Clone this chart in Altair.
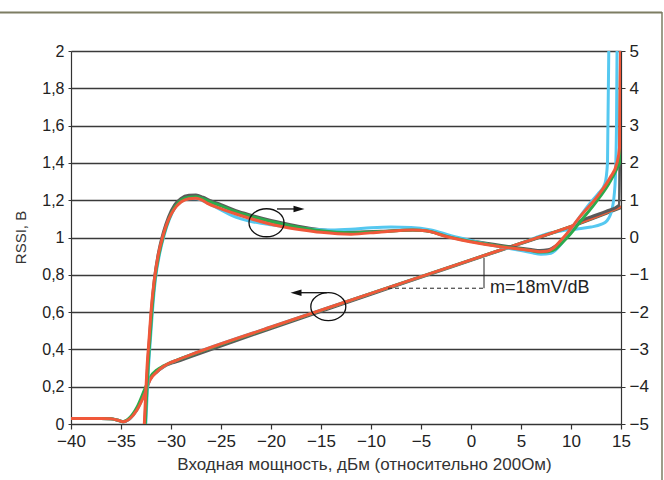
import altair as alt
import pandas as pd

# ---------------- data ----------------
# RSSI curves (left axis, V)
rssi_red_x = [-40, -37, -36, -35.3, -34.8, -34.2, -33.4, -32.6, -32.1, -31.4, -30.8, -30.0, -29.4, -28.0, -20.0, -10.0, 0.0, 5.0, 10.0, 15.0]
rssi_red_y = [0.03, 0.03, 0.028, 0.02, 0.012, 0.025, 0.075, 0.165, 0.236, 0.28, 0.307, 0.33, 0.343, 0.372, 0.52, 0.70, 0.88, 0.97, 1.06, 1.165]
rssi_green_x = [-40, -37, -36, -35.3, -34.8, -34.2, -33.4, -32.6, -32.1, -31.4, -30.8, -30.0, -29.4, -28.0, -20.0, -10.0, 0.0, 5.0, 10.0, 15.0]
rssi_green_y = [0.03, 0.03, 0.028, 0.02, 0.012, 0.03, 0.09, 0.19, 0.25, 0.29, 0.31, 0.33, 0.343, 0.37, 0.518, 0.70, 0.88, 0.97, 1.06, 1.165]
rssi_gray_x = [-40, -37, -36, -35.3, -34.8, -34.2, -33.4, -32.6, -32.1, -31.4, -30.8, -30.0, -29.4, -28.0, -20.0, -10.0, 0.0, 5.0, 10.0, 15.0]
rssi_gray_y = [0.03, 0.03, 0.028, 0.02, 0.012, 0.025, 0.08, 0.17, 0.24, 0.28, 0.305, 0.325, 0.335, 0.362, 0.512, 0.695, 0.878, 0.968, 1.058, 1.16]
rssi_cyan_x = [-40, -37, -36, -35.3, -34.8, -34.2, -33.4, -32.6, -32.1, -31.4, -30.8, -30.0, -29.4, -28.0, -20.0, -10.0, 0.0, 5.0, 8.0, 9.0, 10.0, 11.0, 12.0, 13.0, 13.6, 14.1, 14.4, 14.55, 14.62]
rssi_cyan_y = [0.03, 0.03, 0.028, 0.02, 0.012, 0.025, 0.078, 0.17, 0.24, 0.282, 0.307, 0.33, 0.343, 0.372, 0.52, 0.70, 0.88, 0.97, 1.025, 1.035, 1.042, 1.048, 1.056, 1.07, 1.09, 1.15, 1.28, 1.6, 2.1]

# Error curves (right axis, dB)
err_red_x = [-32.75, -32.55, -32.4, -32.2, -32.0, -31.7, -31.3, -30.8, -30.3, -29.7, -29.0, -28.2, -27.5, -26.9, -26.4, -25.1, -23.5, -22.1, -20.5, -18.8, -17.0, -15.0, -12.0, -9.0, -5.8, -4.5, -2.4, 0.9, 4.2, 6.0, 6.9, 7.6, 8.2, 8.9, 9.6, 10.9, 12.6, 13.9, 14.6, 14.85, 14.97]
err_red_y = [-5.5, -4.3, -3.5, -2.75, -2.0, -1.2, -0.5, 0.05, 0.45, 0.75, 0.95, 1.04, 1.05, 1.0, 0.92, 0.78, 0.63, 0.51, 0.39, 0.29, 0.21, 0.14, 0.09, 0.15, 0.2, 0.18, 0.02, -0.16, -0.29, -0.35, -0.38, -0.37, -0.29, -0.1, 0.11, 0.56, 1.09, 1.6, 2.0, 2.4, 5.5]
err_gray_x = [-32.7, -32.5, -32.35, -32.15, -31.95, -31.65, -31.25, -30.75, -30.25, -29.65, -29.0, -28.2, -27.5, -26.8, -26.0, -25.0, -23.5, -22.0, -20.0, -18.5, -17.0, -15.0, -12.0, -9.0, -5.8, -4.5, -2.4, 0.9, 4.2, 6.0, 6.9, 7.7, 8.5, 9.6, 10.6, 12.0, 13.5, 14.8, 14.97]
err_gray_y = [-5.5, -4.3, -3.5, -2.7, -1.95, -1.1, -0.4, 0.15, 0.55, 0.87, 1.05, 1.13, 1.14, 1.08, 0.98, 0.88, 0.72, 0.6, 0.46, 0.37, 0.29, 0.21, 0.15, 0.17, 0.2, 0.18, 0.04, -0.13, -0.26, -0.32, -0.35, -0.33, -0.22, 0.05, 0.38, 0.55, 0.7, 0.86, 5.5]
err_green_x = [-32.65, -32.45, -32.3, -32.1, -31.9, -31.6, -31.2, -30.7, -30.2, -29.6, -29.0, -28.2, -27.5, -26.8, -26.0, -25.0, -23.5, -22.0, -20.0, -18.5, -17.0, -15.0, -12.0, -9.0, -5.8, -4.5, -2.4, 0.9, 4.2, 6.0, 6.9, 7.7, 8.5, 9.2, 9.9, 11.0, 12.5, 13.8, 14.6, 14.9, 14.97]
err_green_y = [-5.5, -4.3, -3.5, -2.7, -1.95, -1.1, -0.45, 0.1, 0.5, 0.82, 1.0, 1.08, 1.09, 1.04, 0.95, 0.85, 0.69, 0.57, 0.43, 0.34, 0.26, 0.18, 0.13, 0.16, 0.2, 0.18, 0.03, -0.15, -0.28, -0.35, -0.39, -0.38, -0.3, -0.12, 0.08, 0.45, 0.95, 1.45, 1.85, 2.05, 5.5]
err_cyan_x = [-32.6, -32.4, -32.25, -32.05, -31.85, -31.55, -31.15, -30.65, -30.15, -29.55, -28.9, -28.2, -27.5, -26.8, -26.0, -25.0, -24.0, -23.0, -22.0, -21.0, -20.0, -18.0, -16.0, -14.0, -12.0, -10.0, -8.0, -6.0, -4.0, -2.0, 0.0, 2.0, 4.0, 6.0, 7.0, 8.0, 9.0, 10.0, 11.0, 12.0, 12.8, 13.4, 13.65, 13.8]
err_cyan_y = [-5.5, -4.3, -3.5, -2.7, -1.95, -1.1, -0.45, 0.1, 0.5, 0.82, 0.98, 1.04, 1.04, 0.98, 0.88, 0.74, 0.6, 0.5, 0.43, 0.38, 0.34, 0.27, 0.22, 0.2, 0.22, 0.26, 0.28, 0.27, 0.2, 0.05, -0.08, -0.2, -0.3, -0.4, -0.45, -0.42, -0.18, 0.22, 0.6, 0.95, 1.2, 1.45, 2.0, 5.5]

# annotations (left-axis units)
ellipse_x = [-20.45, -14.27]
ellipse_y = [1.079, 0.629]
arrow_right = {"x": -19.4, "x2": -17.3, "y": 1.153, "head": -17.2}
arrow_left = {"x": -14.43, "x2": -17.4, "y": 0.704, "head": -17.5}
slope_x = [-8.3, 1.3]
slope_y = [0.728, 0.89]
slope_label = "m=18mV/dB"

x_ticks = list(range(-40, 16, 5))
left_ticks = [0, 0.2, 0.4, 0.6, 0.8, 1.0, 1.2, 1.4, 1.6, 1.8, 2.0]
right_ticks = list(range(-5, 6))

colors = {"gray": "#5a5a5a", "cyan": "#55c8f0", "green": "#2caa4c", "red": "#f0583a"}

FONT = "Liberation Sans"
AX = "#333333"

x_enc = alt.X("x:Q",
              scale=alt.Scale(domain=[-40, 15], nice=False, zero=False),
              axis=alt.Axis(values=x_ticks, grid=False, tickSize=5, tickColor=AX, tickWidth=1.2,
                            domainColor=AX, domainWidth=1.2, labelFont=FONT, labelFontSize=17,
                            labelColor="#222", labelPadding=4, labelFlush=False,
                            title="Входная мощность, дБм (относительно 200Ом)",
                            titleFont=FONT, titleFontSize=17, titleFontWeight="normal",
                            titleColor="#333", titleX=293, titleY=40, titleBaseline="middle",
                            titleAnchor="start", titleAlign="center"))

left_axis = alt.Axis(values=left_ticks, grid=True, gridColor="#3a3a3a", gridWidth=1.6,
                     tickSize=3, tickColor=AX, domainColor=AX, domainWidth=1.2,
                     labelFont=FONT, labelFontSize=16, labelColor="#222", labelPadding=4,
                     labelExpr="replace(format(datum.value, '~g'), '.', ',')",
                     title="RSSI, B", titleFont=FONT, titleFontSize=15, titleFontWeight="normal",
                     titleColor="#333", titleAngle=-90, titleX=-51, titleY=186,
                     titleBaseline="middle", titleAlign="center", titleAnchor="start")
right_axis = alt.Axis(orient="right", values=right_ticks, grid=False, tickSize=4,
                      tickColor=AX, domainColor=AX, domainWidth=1.2,
                      labelFont=FONT, labelFontSize=17, labelColor="#222", labelPadding=4,
                      title=None)

y_left = alt.Y("y:Q", scale=alt.Scale(domain=[0, 2], nice=False, zero=False), axis=left_axis)
y_right = alt.Y("y:Q", scale=alt.Scale(domain=[-5, 5], nice=False, zero=False), axis=right_axis)
y_ann = alt.Y("y:Q", scale=alt.Scale(domain=[0, 2], nice=False, zero=False), axis=None)


def line(xs, ys, color, y_enc):
    df = pd.DataFrame({"x": xs, "y": ys})
    return alt.Chart(df).mark_line(color=color, strokeWidth=3, clip=True,
                                   interpolate="monotone").encode(x=x_enc, y=y_enc)


left_layer = alt.layer(
    line(rssi_gray_x, rssi_gray_y, colors["gray"], y_left),
    line(rssi_cyan_x, rssi_cyan_y, colors["cyan"], y_left),
    line(rssi_green_x, rssi_green_y, colors["green"], y_left),
    line(rssi_red_x, rssi_red_y, colors["red"], y_left),
)
right_layer = alt.layer(
    line(err_gray_x, err_gray_y, colors["gray"], y_right),
    line(err_cyan_x, err_cyan_y, colors["cyan"], y_right),
    line(err_green_x, err_green_y, colors["green"], y_right),
    line(err_red_x, err_red_y, colors["red"], y_right),
)

ELLIPSE = ("M 1 0 C 1 0.4418 0.5523 0.8 0 0.8 C -0.5523 0.8 -1 0.4418 -1 0 "
           "C -1 -0.4418 -0.5523 -0.8 0 -0.8 C 0.5523 -0.8 1 -0.4418 1 0 Z")
HEAD_R = "M -1 -0.6 L 1 0 L -1 0.6 Z"
HEAD_L = "M 1 -0.6 L -1 0 L 1 0.6 Z"

ell = alt.Chart(pd.DataFrame({"x": ellipse_x, "y": ellipse_y})).mark_point(
    shape=ELLIPSE, size=1225, filled=False, stroke="#111", strokeWidth=1.3, opacity=1
).encode(x=x_enc, y=y_ann)

arrows_df = pd.DataFrame({"x": [arrow_right["x"], arrow_left["x"]],
                          "x2": [arrow_right["x2"], arrow_left["x2"]],
                          "y": [arrow_right["y"], arrow_left["y"]]})
arrow_lines = alt.Chart(arrows_df).mark_rule(color="#111", strokeWidth=1.3).encode(
    x=x_enc, x2="x2:Q", y=y_ann)
head_r = alt.Chart(pd.DataFrame({"x": [arrow_right["head"]], "y": [arrow_right["y"]]})).mark_point(
    shape=HEAD_R, size=121, filled=True, fill="#111", opacity=1).encode(x=x_enc, y=y_ann)
head_l = alt.Chart(pd.DataFrame({"x": [arrow_left["head"]], "y": [arrow_left["y"]]})).mark_point(
    shape=HEAD_L, size=121, filled=True, fill="#111", opacity=1).encode(x=x_enc, y=y_ann)

dash = alt.Chart(pd.DataFrame({"x": [slope_x[0]], "x2": [slope_x[1]], "y": [slope_y[0]]})).mark_rule(
    color="#222", strokeWidth=1, strokeDash=[4, 3]).encode(x=x_enc, x2="x2:Q", y=y_ann)
vert = alt.Chart(pd.DataFrame({"x": [slope_x[1]], "y": [slope_y[0]], "y2": [slope_y[1]]})).mark_rule(
    color="#222", strokeWidth=1).encode(x=x_enc, y=y_ann, y2="y2:Q")
label = alt.Chart(pd.DataFrame({"x": [slope_x[1]], "y": [slope_y[0]], "t": [slope_label]})).mark_text(
    align="left", baseline="middle", dx=6, font=FONT, fontSize=18, color="#222").encode(
    x=x_enc, y=y_ann, text="t:N")

ann_layer = alt.layer(ell, arrow_lines, head_r, head_l, dash, vert, label)

frame_top = alt.Chart(pd.DataFrame({"a": [0]})).mark_rule(color="#7d7d63", strokeWidth=2).encode(
    x=alt.value(-71), x2=alt.value(591), y=alt.value(-38.5))
frame_right = alt.Chart(pd.DataFrame({"a": [0]})).mark_rule(color="#7d7d63", strokeWidth=1.5).encode(
    x=alt.value(591), y=alt.value(-39), y2=alt.value(440))

chart = alt.layer(left_layer, right_layer, ann_layer, frame_top, frame_right).resolve_scale(
    y="independent"
).properties(
    width=550, height=373,
    padding={"left": 71, "top": 51, "right": 43, "bottom": 56},
    autosize=alt.AutoSizeParams(type="none"),
    background="white",
).configure_view(stroke=None)

chart.save("out.html", embed_options={"renderer": "svg", "actions": False})
